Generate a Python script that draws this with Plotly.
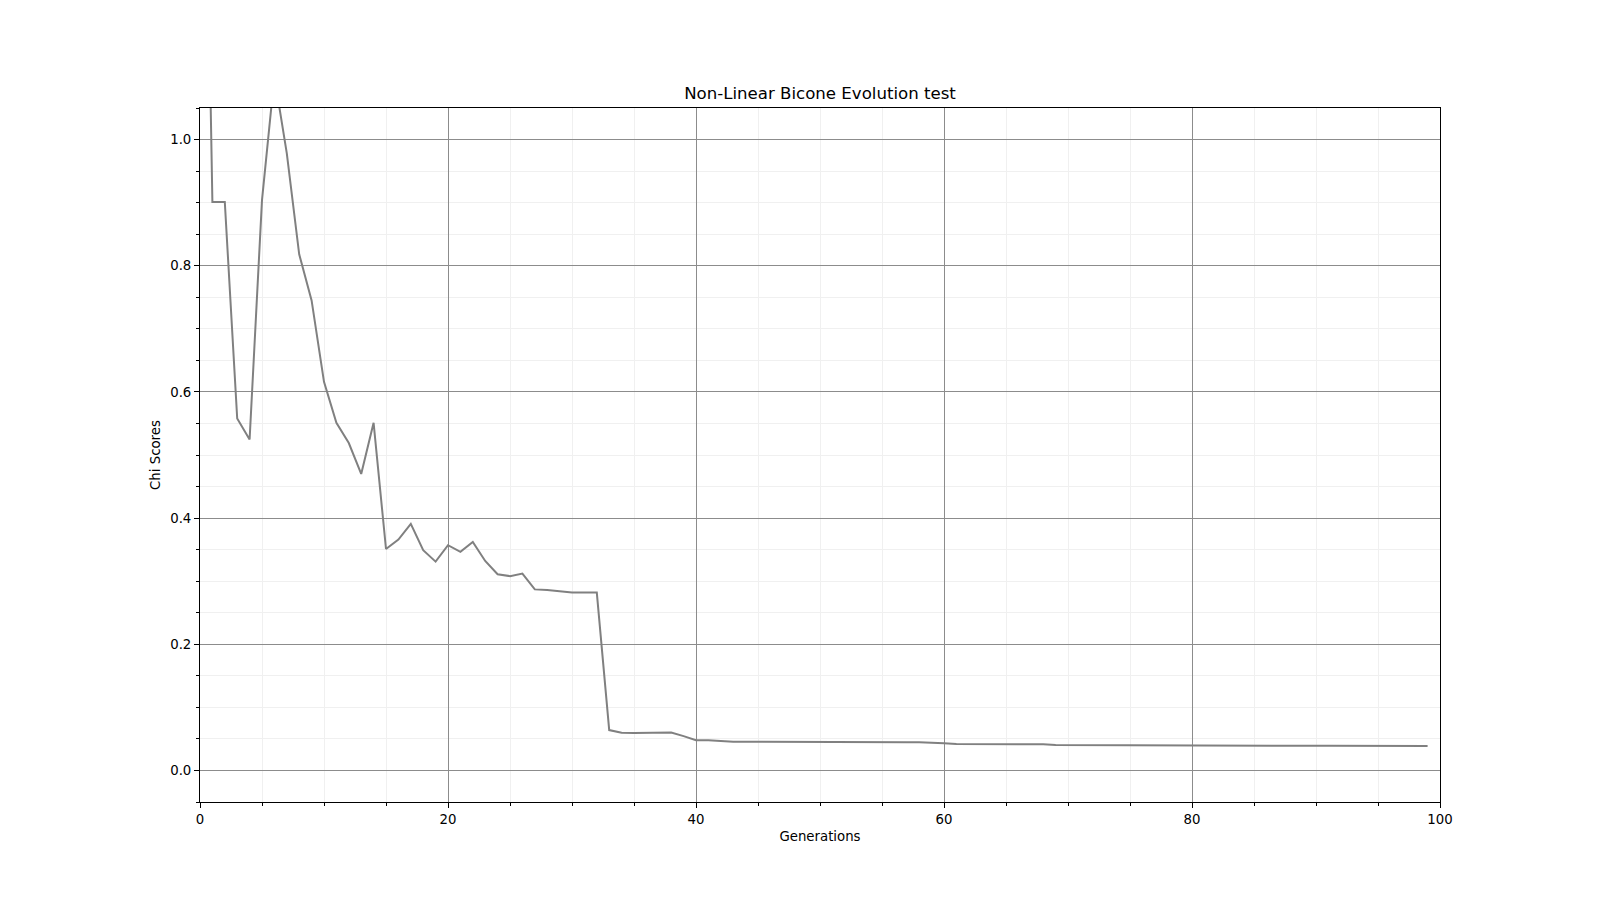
import plotly.graph_objects as go

generations = list(range(100))
chi_scores = [
    2.0, 0.901, 0.901, 0.558, 0.5245, 0.904, 1.10, 0.978, 0.818, 0.745,
    0.616, 0.551, 0.519, 0.470, 0.551, 0.351, 0.366, 0.391, 0.349, 0.331,
    0.357, 0.3465, 0.362, 0.332, 0.311, 0.308, 0.312, 0.287, 0.286, 0.284,
    0.282, 0.282, 0.282, 0.064, 0.0596, 0.0595, 0.0594, 0.0594, 0.0601, 0.0544,
    0.048, 0.0478, 0.0462, 0.0455, 0.0455, 0.0455, 0.0459, 0.0458, 0.0458, 0.0452,
    0.0451, 0.0450, 0.0450, 0.0449, 0.0449, 0.0448, 0.0447, 0.0447, 0.0446, 0.0444,
    0.0433, 0.0418, 0.0418, 0.0418, 0.0417, 0.0417, 0.0417, 0.0417, 0.0416, 0.0402,
    0.0402, 0.0402, 0.0401, 0.0401, 0.0401, 0.0401, 0.0400, 0.0398, 0.0398, 0.0398,
    0.0397, 0.0397, 0.0397, 0.0394, 0.0394, 0.0393, 0.0393, 0.0392, 0.0392, 0.0391,
    0.0391, 0.0390, 0.0390, 0.0389, 0.0389, 0.0388, 0.0388, 0.0387, 0.0387, 0.0386,
]

title_text = "Non-Linear Bicone Evolution test"
x_label = "Generations"
y_label = "Chi Scores"

font_family = "DejaVu Sans"

fig = go.Figure()
fig.add_trace(go.Scatter(
    x=generations, y=chi_scores, mode="lines",
    line=dict(color="#808080", width=2),
    showlegend=False, hoverinfo="x+y",
))

axis_common = dict(
    showline=True, linecolor="black", linewidth=1, mirror=True,
    ticks="outside", ticklen=5, tickwidth=1, tickcolor="black",
    showgrid=True, gridcolor="#8c8c8c", gridwidth=1,
    zeroline=False,
    tickfont=dict(family=font_family, size=13.3, color="black"),
)

fig.update_xaxes(
    range=[0, 100], tick0=0, dtick=20,
    minor=dict(dtick=5, showgrid=True, gridcolor="#f0f0f0", gridwidth=1,
               ticks="outside", ticklen=3, tickcolor="black", tickwidth=1),
    title=dict(text=x_label, font=dict(family=font_family, size=13.3, color="black"), standoff=5),
    **axis_common,
)
fig.update_yaxes(
    range=[-0.05, 1.05], tick0=0, dtick=0.2, tickformat=".1f",
    minor=dict(dtick=0.05, showgrid=True, gridcolor="#f0f0f0", gridwidth=1,
               ticks="outside", ticklen=3, tickcolor="black", tickwidth=1),
    title=dict(text=y_label, font=dict(family=font_family, size=13.3, color="black"), standoff=6),
    **axis_common,
)

fig.update_layout(
    width=1600, height=900,
    margin=dict(l=192, r=168, t=100, b=106),
    paper_bgcolor="white", plot_bgcolor="white",
    title=dict(text=title_text, xref="paper", x=0.5, xanchor="center",
               yref="paper", y=1, yanchor="bottom", pad=dict(b=9),
               font=dict(family=font_family, size=16.6, color="black")),
)

fig.write_html("out.html")
